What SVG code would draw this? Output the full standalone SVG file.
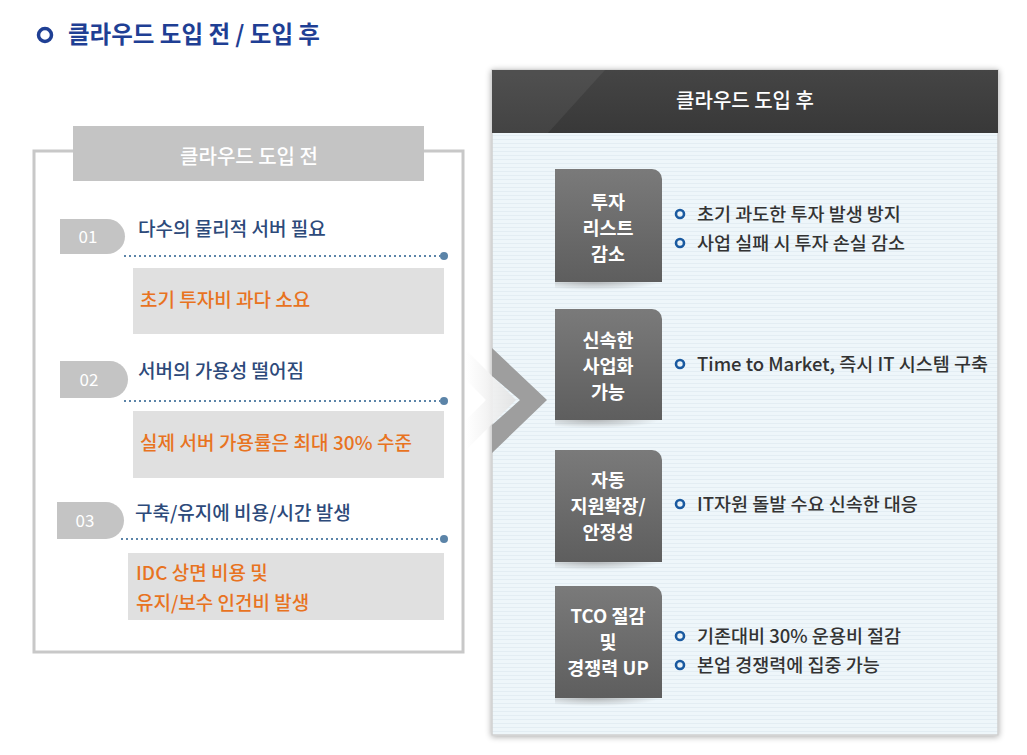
<svg xmlns="http://www.w3.org/2000/svg" width="1027" height="755" viewBox="0 0 1027 755">
<defs>
<style>
text{font-family:"Noto Sans CJK KR","Noto Sans",sans-serif}
.ttl{font-size:23.5px;font-weight:700;fill:#1f3f94}
.hdr{font-size:20px;font-weight:500;fill:#ffffff;text-anchor:middle}
.num{font-size:17px;fill:#ffffff;text-anchor:middle}
.itm{font-size:19px;font-weight:500;fill:#2d4a7a}
.org{font-size:19px;font-weight:500;fill:#e8731f}
.box{font-size:18.5px;font-weight:700;fill:#ffffff;text-anchor:middle}
.bul{font-size:18.5px;font-weight:500;fill:#333333}
.tab{fill:#c4c4c4}
.gbox{fill:#e0e0e0}
.dot{stroke:#5b84a8;stroke-width:2;stroke-dasharray:2 3;fill:none}
.dend{fill:#5b84a8}
.ring{fill:none;stroke:#1a5aa0;stroke-width:2.6}
.rbox{fill:url(#rg)}
.shd{fill:url(#sh)}
</style>
<linearGradient id="rg" x1="0" y1="0" x2="0" y2="1">
<stop offset="0" stop-color="#7a7a7a"/>
<stop offset="1" stop-color="#5e5e5e"/>
</linearGradient>
<radialGradient id="sh" cx="0.35" cy="0.2" r="0.6">
<stop offset="0" stop-color="#8a8a8a" stop-opacity="0.6"/>
<stop offset="1" stop-color="#8a8a8a" stop-opacity="0"/>
</radialGradient>
<linearGradient id="hd" x1="0" y1="0" x2="0" y2="1">
<stop offset="0" stop-color="#454545"/>
<stop offset="1" stop-color="#383838"/>
</linearGradient>
<linearGradient id="ch2" x1="0" y1="0" x2="1" y2="0">
<stop offset="0" stop-color="#ffffff"/>
<stop offset="1" stop-color="#e2e2e2"/>
</linearGradient>
<pattern id="stripe" width="6" height="4" patternUnits="userSpaceOnUse">
<rect width="6" height="4" fill="#eef6fa"/>
<rect y="3" width="6" height="1" fill="#e3edf3"/>
</pattern>
<filter id="ds" x="-5%" y="-5%" width="110%" height="110%">
<feGaussianBlur in="SourceAlpha" stdDeviation="3"/>
<feOffset dx="0" dy="1"/>
<feComponentTransfer><feFuncA type="linear" slope="0.35"/></feComponentTransfer>
<feMerge><feMergeNode/><feMergeNode in="SourceGraphic"/></feMerge>
</filter>
</defs>
<rect width="1027" height="755" fill="#ffffff"/>

<g id="title">
<circle cx="45" cy="35" r="6.5" fill="none" stroke="#1f3f94" stroke-width="3.5"/>
<text class="ttl" x="68" y="43">클라우드 도입 전 / 도입 후</text>
</g>

<g id="left-panel">
<rect x="34" y="151" width="429" height="501" fill="#ffffff" stroke="#c8c8c8" stroke-width="3"/>
<rect x="73" y="126" width="351" height="55" fill="#c4c4c4"/>
<text class="hdr" x="249" y="164">클라우드 도입 전</text>
</g>

<g id="item-01">
<path class="tab" d="M60 219 H107 A18 17.5 0 0 1 107 254 H60 Z"/>
<text class="num" x="88" y="243">01</text>
<text class="itm" x="138" y="236">다수의 물리적 서버 필요</text>
<rect class="gbox" x="133" y="268" width="311" height="66"/>
<text class="org" x="140" y="307">초기 투자비 과다 소요</text>
</g>

<g id="item-02">
<path class="tab" d="M60 361 H110 A18 18.5 0 0 1 110 398 H60 Z"/>
<text class="num" x="89" y="386">02</text>
<text class="itm" x="138" y="378">서버의 가용성 떨어짐</text>
<rect class="gbox" x="133" y="411" width="311" height="67"/>
<text class="org" x="140" y="450" textLength="272">실제 서버 가용률은 최대 30% 수준</text>
</g>

<g id="item-03">
<path class="tab" d="M57 502 H106 A18 18.5 0 0 1 106 539 H57 Z"/>
<text class="num" x="85" y="527">03</text>
<text class="itm" x="135" y="520">구축/유지에 비용/시간 발생</text>
<rect class="gbox" x="128" y="553" width="316" height="67"/>
<text class="org" x="136" y="580">IDC 상면 비용 및</text>
<text class="org" x="136" y="610">유지/보수 인건비 발생</text>
</g>

<g id="right-panel">
<rect x="492" y="70" width="506" height="665" fill="url(#stripe)" stroke="#cfcfcf" stroke-width="1.5" filter="url(#ds)"/>
<rect x="492" y="70" width="506" height="63" fill="url(#hd)"/>
<polygon points="492,70 605,70 548,133 492,133" fill="#ffffff" opacity="0.06"/>
<text class="hdr" x="745" y="108">클라우드 도입 후</text>
</g>

<g id="connectors">
<polygon points="466,350 516,400 466,450 466,420 486,400 466,380" fill="url(#ch2)" opacity="0.9"/>
<polygon points="492,348 547,400 492,453 492,425 520,400 492,376" fill="#9e9e9e"/>
<line class="dot" x1="124" y1="256" x2="440" y2="256"/>
<circle class="dend" cx="444" cy="256" r="4"/>
<line class="dot" x1="124" y1="401" x2="440" y2="401"/>
<circle class="dend" cx="444" cy="401" r="4"/>
<line class="dot" x1="121" y1="539" x2="440" y2="539"/>
<circle class="dend" cx="444" cy="539" r="4"/>
</g>

<g id="box-1">
<rect class="shd" x="555" y="279" width="110" height="14"/>
<path class="rbox" d="M555 169 H652 A10 10 0 0 1 662 179 V282 H555 Z"/>
<text class="box" x="608" y="209">투자</text>
<text class="box" x="608" y="235">리스트</text>
<text class="box" x="608" y="261">감소</text>
<circle class="ring" cx="680" cy="214" r="4"/>
<text class="bul" x="697" y="221">초기 과도한 투자 발생 방지</text>
<circle class="ring" cx="680" cy="243" r="4"/>
<text class="bul" x="697" y="250">사업 실패 시 투자 손실 감소</text>
</g>

<g id="box-2">
<rect class="shd" x="555" y="417" width="110" height="14"/>
<path class="rbox" d="M555 309 H652 A10 10 0 0 1 662 319 V420 H555 Z"/>
<text class="box" x="608" y="347">신속한</text>
<text class="box" x="608" y="373">사업화</text>
<text class="box" x="608" y="399">가능</text>
<circle class="ring" cx="680" cy="364" r="4"/>
<text class="bul" x="697" y="371">Time to Market, 즉시 IT 시스템 구축</text>
</g>

<g id="box-3">
<rect class="shd" x="555" y="559" width="110" height="14"/>
<path class="rbox" d="M555 450 H652 A10 10 0 0 1 662 460 V562 H555 Z"/>
<text class="box" x="608" y="487">자동</text>
<text class="box" x="608" y="513">지원확장/</text>
<text class="box" x="608" y="539">안정성</text>
<circle class="ring" cx="680" cy="504" r="4"/>
<text class="bul" x="697" y="511">IT자원 돌발 수요 신속한 대응</text>
</g>

<g id="box-4">
<rect class="shd" x="555" y="695" width="110" height="14"/>
<path class="rbox" d="M555 586 H652 A10 10 0 0 1 662 596 V698 H555 Z"/>
<text class="box" x="608" y="623">TCO 절감</text>
<text class="box" x="608" y="649">및</text>
<text class="box" x="608" y="675">경쟁력 UP</text>
<circle class="ring" cx="680" cy="636" r="4"/>
<text class="bul" x="697" y="643">기존대비 30% 운용비 절감</text>
<circle class="ring" cx="680" cy="665" r="4"/>
<text class="bul" x="697" y="672">본업 경쟁력에 집중 가능</text>
</g>
</svg>
